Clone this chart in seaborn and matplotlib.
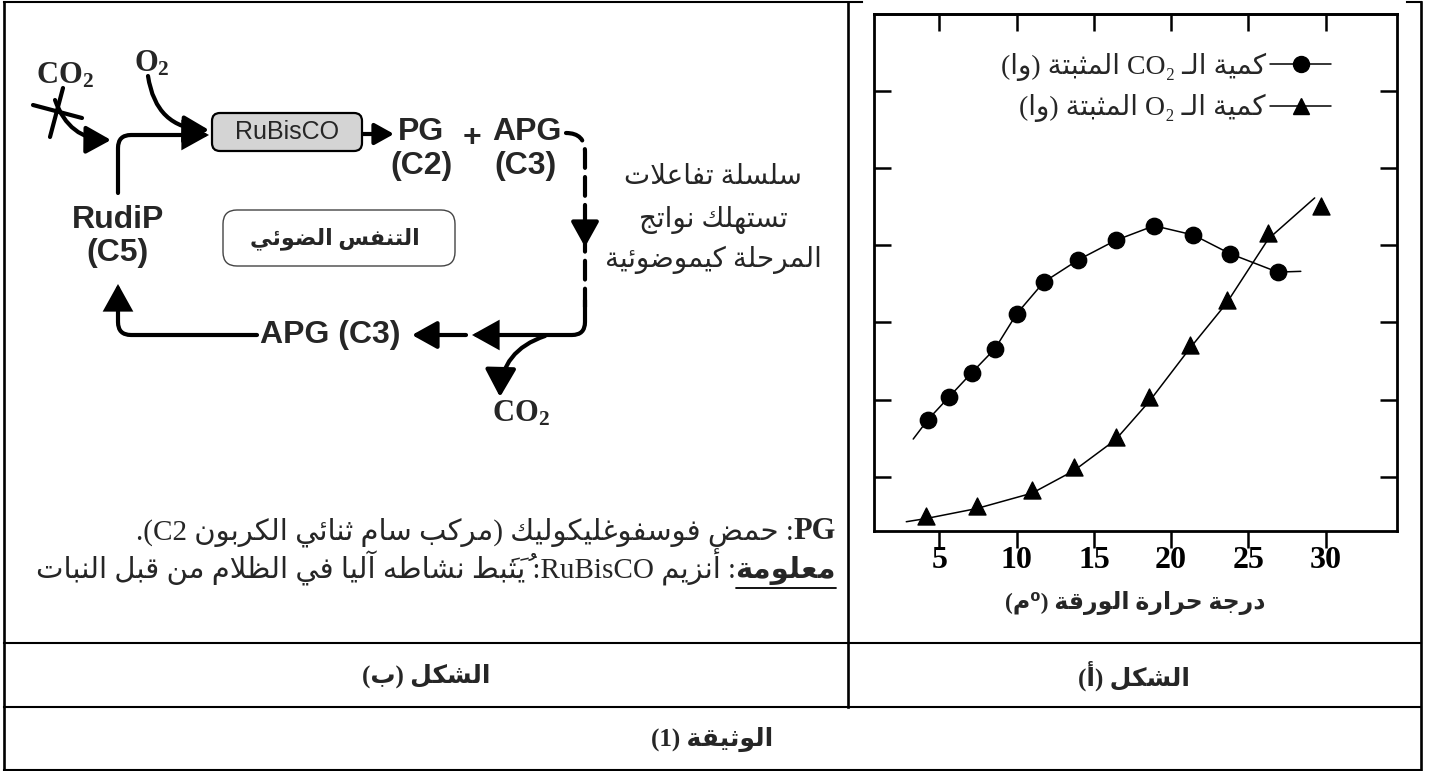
import matplotlib
matplotlib.use('Agg')
import matplotlib.pyplot as plt
import seaborn as sns
import pandas as pd
from matplotlib.patches import FancyArrowPatch, FancyBboxPatch
from matplotlib.path import Path
from matplotlib.lines import Line2D

# ---- chart data ----
temp_co2 = [4.25, 5.6, 7.1, 8.6, 10.0, 11.75, 14.0, 16.4, 18.9, 21.45, 23.8, 26.9]
co2_fixed = [1.74, 2.03, 2.35, 2.66, 3.11, 3.52, 3.81, 4.06, 4.25, 4.13, 3.89, 3.65]
co2_curve_x = [3.3, 4.25, 5.6, 7.1, 8.6, 10.0, 11.75, 14.0, 16.4, 18.9, 21.45, 23.8, 26.9, 28.4]
co2_curve_y = [1.49, 1.74, 2.03, 2.35, 2.66, 3.11, 3.52, 3.81, 4.06, 4.25, 4.13, 3.89, 3.65, 3.66]

temp_o2 = [4.1, 7.4, 11.0, 13.7, 16.4, 18.6, 21.2, 23.6, 26.3, 29.7]
o2_fixed = [0.49, 0.62, 0.83, 1.13, 1.52, 2.03, 2.71, 3.29, 4.15, 4.50]
o2_curve_x = [2.85, 4.1, 7.4, 11.0, 13.7, 16.4, 18.6, 21.2, 23.6, 26.3, 29.3]
o2_curve_y = [0.42, 0.46, 0.59, 0.79, 1.08, 1.48, 1.98, 2.66, 3.25, 4.08, 4.61]

x_ticks = [5, 10, 15, 20, 25, 30]
y_ticks = [1, 2, 3, 4, 5, 6]

legend_co2 = 'كمية الـ CO₂ المثبتة (وا)'
legend_o2 = 'كمية الـ O₂ المثبتة (وا)'
x_label = 'درجة حرارة الورقة (⁰م)'
caption_a = 'الشكل (أ)'
caption_b = 'الشكل (ب)'
caption_doc = 'الوثيقة (1)'
box_label = 'التنفس الضوئي'
side_lines = ['سلسلة تفاعلات', 'تستهلك نواتج', 'المرحلة كيموضوئية']
pg_note = ': حمض فوسفوغليكوليك (مركب سام ثنائي الكربون C2).'
info_word = 'معلومة'
info_note = ': أنزيم RuBisCO: يُثَبَط نشاطه آليا في الظلام من قبل النبات'


# ---- minimal arabic shaping + bidi so matplotlib shows joined RTL text ----
FORMS = {0x0621: (0xFE80, 1), 0x0622: (0xFE81, 2), 0x0623: (0xFE83, 2), 0x0624: (0xFE85, 2),
         0x0625: (0xFE87, 2), 0x0626: (0xFE89, 4), 0x0627: (0xFE8D, 2), 0x0628: (0xFE8F, 4),
         0x0629: (0xFE93, 2), 0x062A: (0xFE95, 4), 0x062B: (0xFE99, 4), 0x062C: (0xFE9D, 4),
         0x062D: (0xFEA1, 4), 0x062E: (0xFEA5, 4), 0x062F: (0xFEA9, 2), 0x0630: (0xFEAB, 2),
         0x0631: (0xFEAD, 2), 0x0632: (0xFEAF, 2), 0x0633: (0xFEB1, 4), 0x0634: (0xFEB5, 4),
         0x0635: (0xFEB9, 4), 0x0636: (0xFEBD, 4), 0x0637: (0xFEC1, 4), 0x0638: (0xFEC5, 4),
         0x0639: (0xFEC9, 4), 0x063A: (0xFECD, 4), 0x0641: (0xFED1, 4), 0x0642: (0xFED5, 4),
         0x0643: (0xFED9, 4), 0x0644: (0xFEDD, 4), 0x0645: (0xFEE1, 4), 0x0646: (0xFEE5, 4),
         0x0647: (0xFEE9, 4), 0x0648: (0xFEED, 2), 0x0649: (0xFEEF, 2), 0x064A: (0xFEF1, 4)}
LAM_ALEF = {0x0622: 0xFEF5, 0x0623: 0xFEF7, 0x0625: 0xFEF9, 0x0627: 0xFEFB}
MIRROR = {'(': ')', ')': '('}


def is_mark(c):
    return 0x064B <= ord(c) <= 0x0652


def is_ar(c):
    return ord(c) in FORMS or ord(c) == 0x0640


def dual(c):
    return ord(c) == 0x0640 or (ord(c) in FORMS and FORMS[ord(c)][1] == 4)


def shape(s):
    out, i, n = [], 0, len(s)
    while i < n:
        c = s[i]
        if not is_ar(c) or ord(c) == 0x0640:
            out.append(c)
            i += 1
            continue
        j = i - 1
        while j >= 0 and is_mark(s[j]):
            j -= 1
        jp = j >= 0 and dual(s[j])
        k = i + 1
        while k < n and is_mark(s[k]):
            k += 1
        nxt = s[k] if k < n else ''
        if ord(c) == 0x0644 and nxt and ord(nxt) in LAM_ALEF:
            out.append(chr(LAM_ALEF[ord(nxt)] + (1 if jp else 0)))
            out.extend(s[i + 1:k])
            i = k + 1
            continue
        base, cnt = FORMS[ord(c)]
        jn = cnt == 4 and nxt != '' and is_ar(nxt)
        if cnt == 1:
            f = base
        elif cnt == 2:
            f = base + (1 if jp else 0)
        else:
            f = base + (3 if jp and jn else 1 if jp else 2 if jn else 0)
        out.append(chr(f))
        i += 1
    return ''.join(out)


def is_rtl(c):
    cp = ord(c)
    return 0x0600 <= cp <= 0x06FF or 0xFB50 <= cp <= 0xFEFF


def vis(s):
    s = shape(s)
    n = len(s)
    kinds = ['R' if is_rtl(c) else 'L' if c.isalnum() else 'N' for c in s]
    levels = []
    for i, k in enumerate(kinds):
        if k != 'N':
            levels.append(1 if k == 'R' else 2)
            continue
        p = next((kinds[j] for j in range(i - 1, -1, -1) if kinds[j] != 'N'), 'R')
        q = next((kinds[j] for j in range(i + 1, n) if kinds[j] != 'N'), 'R')
        levels.append(2 if p == 'L' and q == 'L' else 1)
    chars = [MIRROR.get(c, c) if lv == 1 else c for c, lv in zip(s, levels)]
    out, i = [], 0
    while i < n:
        if levels[i] == 2:
            j = i
            while j < n and levels[j] == 2:
                j += 1
            out.extend(reversed(chars[i:j]))
            i = j
        else:
            out.append(chars[i])
            i += 1
    out.reverse()
    res, pend = [], []
    for c in out:
        if is_mark(c):
            pend.append(c)
        else:
            res.append(c)
            res.extend(pend)
            pend = []
    return ''.join(res + pend)


sns.set_style('white')
plt.rcParams['font.family'] = ['Liberation Serif', 'DejaVu Sans']
plt.rcParams['mathtext.fontset'] = 'custom'
plt.rcParams['mathtext.rm'] = 'Liberation Serif'
plt.rcParams['mathtext.bf'] = 'Liberation Serif:bold'

SERIF = ['Liberation Serif', 'DejaVu Sans']
SANS = ['Liberation Sans', 'DejaVu Sans']

fig = plt.figure(figsize=(14.35, 7.71), dpi=100)
ov = fig.add_axes([0, 0, 1, 1], zorder=0)
ov.set_xlim(0, 1435)
ov.set_ylim(771, 0)
ov.axis('off')

# ---- table frame ----
tlw = 1.5
for x0, x1, y in [(4, 862, 2), (1407, 1421, 2), (4, 1421, 643), (4, 1421, 707), (4, 1421, 770)]:
    ov.plot([x0, x1], [y, y], color='k', lw=tlw, solid_capstyle='projecting')
for x, y0, y1 in [(4, 2, 770), (1421, 2, 770), (848, 2, 707)]:
    ov.plot([x, x], [y0, y1], color='k', lw=tlw + 0.4, solid_capstyle='projecting')

# ---- chart (figure a) ----
ax = fig.add_axes([874 / 1435, 1 - 531 / 771, 523 / 1435, 517 / 771], zorder=2)
sns.lineplot(x=co2_curve_x, y=co2_curve_y, sort=False, estimator=None, color='k', lw=1.1, ax=ax)
sns.lineplot(x=o2_curve_x, y=o2_curve_y, sort=False, estimator=None, color='k', lw=1.1, ax=ax)
sns.scatterplot(x=temp_co2, y=co2_fixed, marker='o', s=140, color='k', edgecolor='k', ax=ax, zorder=3)
sns.scatterplot(x=temp_o2, y=o2_fixed, marker='^', s=150, color='k', edgecolor='k', ax=ax, zorder=3)
ax.set_xlim(0.76, 34.63)
ax.set_ylim(0.30, 6.99)
ax.set_xticks(x_ticks)
ax.set_xticklabels([str(t) for t in x_ticks], fontsize=23, fontweight='bold', family=SERIF)
ax.set_yticks(y_ticks)
ax.tick_params(axis='x', bottom=True, top=False, direction='out', length=12, width=1.8, pad=-1.5,
               colors='k')
ax.tick_params(axis='y', left=True, right=True, direction='in', length=12, width=1.8,
               labelleft=False, colors='k')
top = ax.secondary_xaxis('top')
top.set_xticks(x_ticks)
top.tick_params(direction='in', length=12, width=1.8, labeltop=False, colors='k')
top.spines['top'].set_linewidth(2.0)
for sp in ax.spines.values():
    sp.set_linewidth(2.0)
    sp.set_color('k')
ax.set_xlabel(vis(x_label), fontsize=17, fontweight='bold', family=SERIF, labelpad=12)
ax.set_ylabel('')

h_co2 = Line2D([], [], color='k', lw=1.1, marker='o', ms=11.5)
h_o2 = Line2D([], [], color='k', lw=1.1, marker='^', ms=12)
ax.legend([h_co2, h_o2], [vis(legend_co2), vis(legend_o2)], loc='upper right',
          bbox_to_anchor=(0.874, 0.925), markerfirst=False, frameon=False, fontsize=20,
          handlelength=2.2, handletextpad=0.15, labelspacing=0.47, borderpad=0,
          borderaxespad=0, numpoints=1)

# ---- diagram (figure b) ----
LW = 3.0
HEAD = '-|>,head_length=0.45,head_width=0.25'


def arrow(a=None, b=None, path=None, rad=0.0, ms=34, ls='-'):
    if path is not None:
        p = FancyArrowPatch(path=path, arrowstyle=HEAD, mutation_scale=ms, lw=LW, color='k',
                            shrinkA=0, shrinkB=0, linestyle=ls, joinstyle='miter')
    else:
        p = FancyArrowPatch(a, b, connectionstyle=f'arc3,rad={rad}', arrowstyle=HEAD,
                            mutation_scale=ms, lw=LW, color='k', shrinkA=0, shrinkB=0)
    ov.add_patch(p)


M, L, C = Path.MOVETO, Path.LINETO, Path.CURVE3
# CO2 blocked input
arrow((55, 100), (111, 140), rad=0.35)
ov.plot([33, 82], [105, 118], color='k', lw=LW)
ov.plot([63, 50], [88, 137], color='k', lw=LW)
# O2 input
arrow((148, 76), (209, 130), rad=0.42)
# RudiP -> RuBisCO
arrow(path=Path([(118, 193), (118, 148), (118, 135), (131, 135), (209, 135)], [M, L, C, C, L]))
# RuBisCO box
ov.add_patch(FancyBboxPatch((212, 113), 150, 38, boxstyle='round,pad=0,rounding_size=8',
                            fc='#d4d4d4', ec='k', lw=1.6))
ov.text(287, 132, 'RuBisCO', ha='center', va='center', fontsize=18, family=SANS)
arrow((363, 134), (394, 134), ms=26)
for x, y, s in [(421, 132, 'PG'), (421, 166, '(C2)'), (472, 138, '+'), (527, 132, 'APG'),
                (525, 166, '(C3)'), (118, 220, 'RudiP'), (118, 253, '(C5)'), (330, 335, 'APG (C3)')]:
    ov.text(x, y, s, ha='center', va='center', fontsize=23, fontweight='bold', family=SANS)
ov.text(65, 76, r'$\mathbf{CO_2}$', ha='center', va='center', fontsize=22)
ov.text(152, 64, r'$\mathbf{O_2}$', ha='center', va='center', fontsize=22)
ov.text(521, 414, r'$\mathbf{CO_2}$', ha='center', va='center', fontsize=22)

# dashed branch from APG downwards
dash = FancyArrowPatch(path=Path([(566, 133), (585, 133), (585, 152), (585, 307)], [M, C, C, L]),
                       arrowstyle='-', lw=LW, color='k', linestyle=(0, (4.5, 2.2)), shrinkA=0, shrinkB=0)
ov.add_patch(dash)
arrow((585, 222), (585, 247), ms=34)
# return path to RudiP
arrow(path=Path([(585, 300), (585, 322), (585, 335), (572, 335), (472, 335)], [M, L, C, C, L]))
arrow((466, 335), (412, 335))
arrow(path=Path([(257, 335), (131, 335), (118, 335), (118, 322), (118, 284)], [M, L, C, C, L]))
# CO2 release
arrow((545, 336), (500, 397), rad=0.35, ms=38)

# photorespiration label box
ov.add_patch(FancyBboxPatch((223, 210), 232, 56, boxstyle='round,pad=0,rounding_size=14',
                            fc='white', ec='#444444', lw=1.0))
ov.text(335, 239, vis(box_label), ha='center', va='center', fontsize=16, fontweight='bold', family=SERIF)
for y, s in zip([178, 220, 260], side_lines):
    ov.text(713, y, vis(s), ha='center', va='center', fontsize=20, family=SERIF)

# notes under the diagram
fig.canvas.draw()
rend = fig.canvas.get_renderer()
inv = ov.transData.inverted()


def x_extent(t):
    bb = t.get_window_extent(rend)
    return inv.transform((bb.x0, bb.y0))[0], inv.transform((bb.x1, bb.y0))[0]


t_pg = ov.text(836, 539, 'PG', ha='right', va='baseline', fontsize=22, fontweight='bold', family=SERIF)
x0, _ = x_extent(t_pg)
ov.text(x0, 539, vis(pg_note), ha='right', va='baseline', fontsize=21, family=SERIF)
t_info = ov.text(836, 578, vis(info_word), ha='right', va='baseline', fontsize=21,
                 fontweight='bold', family=SERIF)
x0, x1 = x_extent(t_info)
ov.plot([x0, x1], [588, 588], color='k', lw=1.3)
ov.text(x0, 578, vis(info_note), ha='right', va='baseline', fontsize=21, family=SERIF)

# captions
ov.text(1134, 676, vis(caption_a), ha='center', va='center', fontsize=18, fontweight='bold', family=SERIF)
ov.text(426, 676, vis(caption_b), ha='center', va='center', fontsize=18, fontweight='bold', family=SERIF)
ov.text(712, 739, vis(caption_doc), ha='center', va='center', fontsize=18, fontweight='bold', family=SERIF)

fig.savefig('out.png', dpi=100, facecolor='white')
